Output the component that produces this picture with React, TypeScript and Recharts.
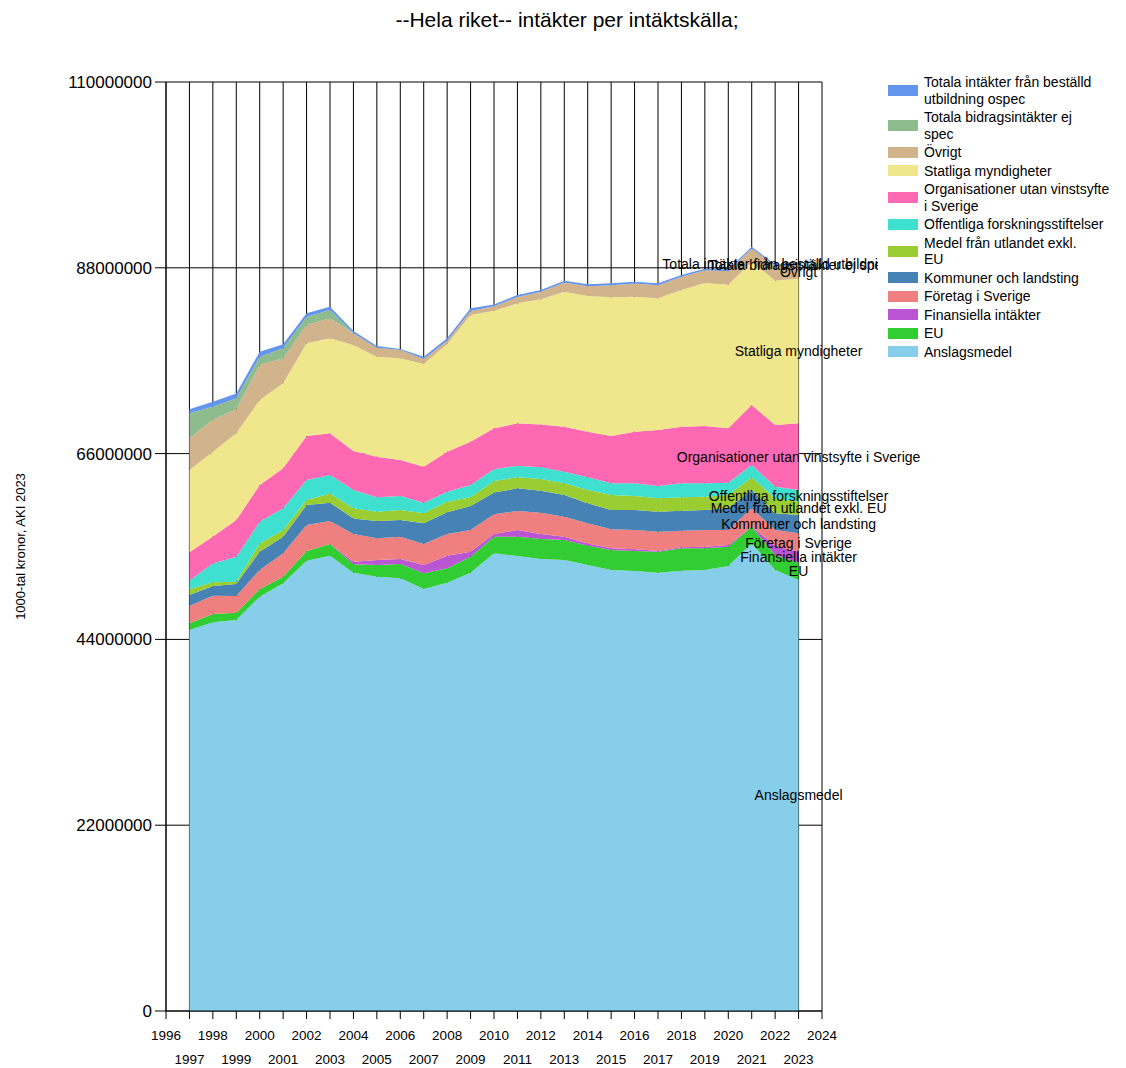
import { AreaChart, Area, XAxis, YAxis, CartesianGrid, Legend, ReferenceDot } from 'recharts'

const years = [1997, 1998, 1999, 2000, 2001, 2002, 2003, 2004, 2005, 2006, 2007, 2008, 2009, 2010, 2011, 2012, 2013, 2014, 2015, 2016, 2017, 2018, 2019, 2020, 2021, 2022, 2023]

// 1000-tal kronor
const anslagsmedel = [45110000, 46020000, 46300000, 49060000, 50640000, 53320000, 53910000, 51900000, 51430000, 51230000, 49970000, 50720000, 51900000, 54190000, 53870000, 53520000, 53400000, 52810000, 52220000, 52100000, 51900000, 52140000, 52220000, 52690000, 55370000, 52220000, 51030000]
const eu = [790000, 990000, 860000, 910000, 790000, 1150000, 1390000, 1000000, 1380000, 1700000, 1850000, 1700000, 1890000, 1970000, 2290000, 2370000, 2370000, 2290000, 2370000, 2370000, 2490000, 2640000, 2560000, 2290000, 1980000, 1780000, 2050000]
const finansiella = [0, 0, 0, 0, 0, 0, 0, 300000, 590000, 590000, 990000, 1490000, 600000, 320000, 790000, 590000, 390000, 270000, 190000, 190000, 120000, 120000, 200000, 200000, 0, 1100000, 1300000]
const foretag = [2050000, 2170000, 1980000, 2250000, 2760000, 3080000, 2720000, 3280000, 2570000, 2640000, 2490000, 2570000, 2560000, 2350000, 2250000, 2520000, 2370000, 2370000, 2250000, 2290000, 2250000, 1970000, 1970000, 1770000, 2170000, 1850000, 2180000]
const kommuner = [1310000, 1140000, 1420000, 2170000, 1970000, 2360000, 2170000, 1850000, 2050000, 1980000, 2440000, 2570000, 2850000, 2560000, 2690000, 2610000, 2570000, 2370000, 2290000, 2370000, 2360000, 2370000, 2370000, 2570000, 2170000, 1980000, 2170000]
const medelUtland = [670000, 440000, 280000, 980000, 790000, 600000, 1100000, 1190000, 1100000, 1180000, 1190000, 1260000, 1020000, 1380000, 1300000, 1380000, 1380000, 1580000, 1780000, 1660000, 1580000, 1580000, 1580000, 1580000, 1500000, 1770000, 1580000]
const offentliga = [1030000, 2240000, 2960000, 2570000, 2570000, 2360000, 2180000, 2170000, 1700000, 1660000, 1260000, 1180000, 1460000, 1390000, 1380000, 1380000, 1380000, 1500000, 1380000, 1500000, 1460000, 1660000, 1580000, 1460000, 1460000, 1380000, 1380000]
const organisationer = [3350000, 3170000, 4340000, 4340000, 4740000, 5210000, 4930000, 4620000, 4820000, 4260000, 4260000, 4740000, 5130000, 4830000, 5010000, 5090000, 5330000, 5410000, 5600000, 6120000, 6630000, 6710000, 6790000, 6430000, 7100000, 7310000, 7890000]
const statliga = [9750000, 10060000, 10260000, 10070000, 10060000, 10980000, 11250000, 12550000, 11840000, 12040000, 12160000, 12750000, 15000000, 13910000, 14210000, 14810000, 15980000, 16060000, 16420000, 15980000, 15590000, 16180000, 16930000, 17010000, 16950000, 17110000, 17120000]
const ovrigt = [3750000, 3770000, 2840000, 4140000, 2960000, 2170000, 2370000, 1380000, 1060000, 990000, 590000, 390000, 480000, 550000, 760000, 880000, 1080000, 1160000, 1440000, 1560000, 1560000, 1560000, 1500000, 1600000, 1600000, 1700000, 1600000]
const bidragEjSpec = [2960000, 1560000, 1310000, 990000, 1190000, 980000, 980000, 0, 0, 0, 0, 0, 0, 0, 0, 0, 0, 0, 0, 0, 0, 0, 0, 0, 0, 0, 0]
const utbildningOspec = [470000, 590000, 580000, 590000, 470000, 410000, 390000, 280000, 200000, 120000, 280000, 280000, 310000, 200000, 230000, 220000, 230000, 220000, 220000, 220000, 220000, 220000, 200000, 200000, 200000, 200000, 200000]

const yTicks = [0, 22000000, 44000000, 66000000, 88000000, 110000000]
const xTicks = [1996, 1997, 1998, 1999, 2000, 2001, 2002, 2003, 2004, 2005, 2006, 2007, 2008, 2009, 2010, 2011, 2012, 2013, 2014, 2015, 2016, 2017, 2018, 2019, 2020, 2021, 2022, 2023, 2024]

// stacking order, bottom first
const SERIES = [
  { key: 'ansl', name: 'Anslagsmedel', color: '#87CEEB', values: anslagsmedel, legend: ['Anslagsmedel'] },
  { key: 'eu', name: 'EU', color: '#32CD32', values: eu, legend: ['EU'] },
  { key: 'fin', name: 'Finansiella intäkter', color: '#BA55D3', values: finansiella, legend: ['Finansiella intäkter'] },
  { key: 'fore', name: 'Företag i Sverige', color: '#F08080', values: foretag, legend: ['Företag i Sverige'] },
  { key: 'komm', name: 'Kommuner och landsting', color: '#4682B4', values: kommuner, legend: ['Kommuner och landsting'] },
  { key: 'medel', name: 'Medel från utlandet exkl. EU', color: '#9ACD32', values: medelUtland, legend: ['Medel från utlandet exkl.', 'EU'] },
  { key: 'off', name: 'Offentliga forskningsstiftelser', color: '#40E0D0', values: offentliga, legend: ['Offentliga forskningsstiftelser'] },
  { key: 'org', name: 'Organisationer utan vinstsyfte i Sverige', color: '#FF69B4', values: organisationer, legend: ['Organisationer utan vinstsyfte', 'i Sverige'] },
  { key: 'stat', name: 'Statliga myndigheter', color: '#F0E68C', values: statliga, legend: ['Statliga myndigheter'] },
  { key: 'ovr', name: 'Övrigt', color: '#D2B48C', values: ovrigt, legend: ['Övrigt'] },
  { key: 'bidr', name: 'Totala bidragsintäkter ej spec', color: '#8FBC8F', values: bidragEjSpec, legend: ['Totala bidragsintäkter ej', 'spec'] },
  { key: 'utb', name: 'Totala intäkter från beställd utbildning ospec', color: '#6495ED', values: utbildningOspec, legend: ['Totala intäkter från beställd', 'utbildning ospec'] },
]

const data = years.map((year, i) => {
  const row: Record<string, number> = { year }
  SERIES.forEach(s => { row[s.key] = s.values[i] })
  return row
})

// label sits in the middle of each band at the last year
const last = years.length - 1
let running = 0
const endLabels = SERIES.map(s => {
  const mid = running + s.values[last] / 2
  running += s.values[last]
  return { name: s.name, y: mid }
})

function YearTick({ x, y, payload }: any) {
  const odd = payload.value % 2 === 1
  return (
    <text x={x} y={y + (odd ? 33 : 9)} dy="0.71em" textAnchor="middle" fontSize={13.5} fill="#000">
      {payload.value}
    </text>
  )
}

function LegendBox() {
  return (
    <div style={{ background: '#fff', paddingLeft: 10, color: '#000' }}>
      {[...SERIES].reverse().map(s => (
        <div key={s.key} style={{ display: 'flex', alignItems: 'center', marginBottom: 2 }}>
          <span style={{ width: 30, height: 11, background: s.color, marginRight: 6, flex: 'none' }} />
          <div style={{ fontSize: 14, lineHeight: '16.5px', whiteSpace: 'nowrap' }}>
            {s.legend.map((l, i) => <div key={i}>{l}</div>)}
          </div>
        </div>
      ))}
    </div>
  )
}

export default function App() {
  return (
    <div style={{ position: 'relative', width: 1118, height: 1060, fontFamily: '"Liberation Sans", Arial, sans-serif' }}>
      <div style={{ position: 'absolute', top: 0, left: 0, width: 1118, textAlign: 'center', fontSize: 21, lineHeight: '24px', color: '#000' }}>
        --Hela riket-- intäkter per intäktskälla;
      </div>
      <AreaChart width={1118} height={1060} data={data} margin={{ top: 74, right: 304, left: 0, bottom: 7 }}>
        <CartesianGrid stroke="#000" strokeWidth={1} />
        <XAxis
          dataKey="year"
          type="number"
          domain={[1996, 2024]}
          ticks={xTicks}
          interval={0}
          height={50}
          tickSize={8}
          stroke="#000"
          tickLine={{ stroke: '#000' }}
          tick={<YearTick />}
        />
        <YAxis
          type="number"
          domain={[0, 110000000]}
          ticks={yTicks}
          interval={0}
          width={158}
          tickSize={11}
          tickMargin={3}
          stroke="#000"
          tick={{ fontSize: 17, fill: '#000' }}
          label={{ value: '1000-tal kronor, AKI 2023', angle: -90, position: 'insideLeft', offset: 12, fontSize: 13, fill: '#000', style: { textAnchor: 'middle' } }}
        />
        {SERIES.map(s => (
          <Area
            key={s.key}
            type="linear"
            dataKey={s.key}
            name={s.name}
            stackId="1"
            stroke="none"
            fill={s.color}
            fillOpacity={1}
            isAnimationActive={false}
            dot={false}
            activeDot={false}
          />
        ))}
        {endLabels.map(l => (
          <ReferenceDot
            key={l.name}
            x={2023}
            y={l.y}
            r={0}
            fill="none"
            stroke="none"
            label={{ value: l.name, position: 'center', fontSize: 14, fill: '#000' }}
          />
        ))}
        <Legend
          layout="vertical"
          align="center"
          verticalAlign="middle"
          content={() => <LegendBox />}
          wrapperStyle={{ left: 870, top: 66, width: 248, height: 'auto' }}
        />
      </AreaChart>
    </div>
  )
}
